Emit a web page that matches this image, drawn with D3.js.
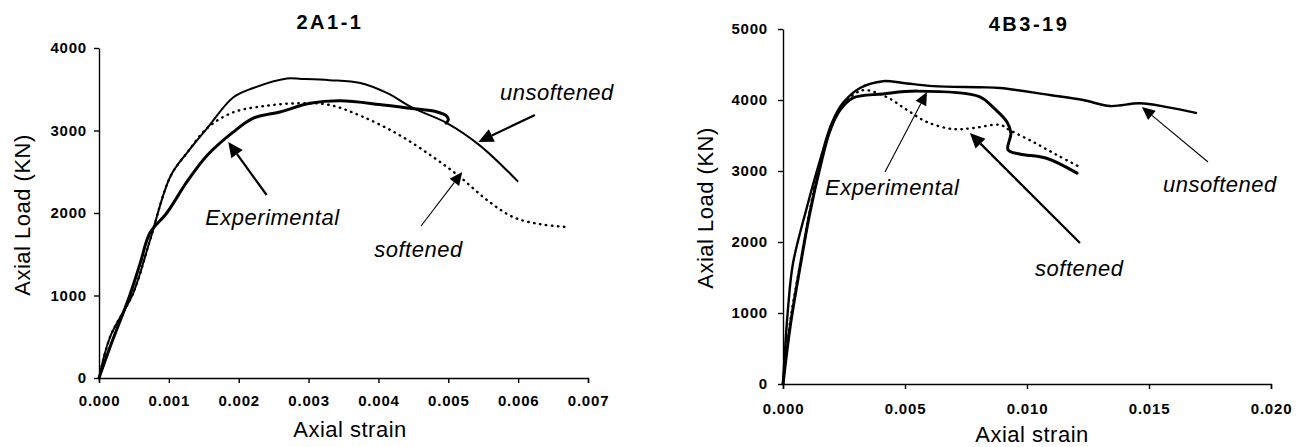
<!DOCTYPE html>
<html>
<head>
<meta charset="utf-8">
<script src="https://cdn.jsdelivr.net/npm/d3@7"></script>
<style>
  html, body { margin: 0; padding: 0; background: #fff; }
  svg { display: block; font-family: "Liberation Sans", Arial, sans-serif; }
  .tick text { font-weight: bold; font-size: 15px; letter-spacing: 0.8px; }
  .axis path, .axis line { stroke: #000; stroke-width: 1.4; }
  .title { font-weight: bold; font-size: 20px; letter-spacing: 2.5px; }
  .axis-title { font-size: 22px; letter-spacing: 0.5px; }
  .note { font-size: 22px; font-style: italic; letter-spacing: 0.5px; }
</style>
</head>
<body>
<svg width="1305" height="447"></svg>
<script>
// ---- 2A1-1 ----
const xTicks1 = [0, 0.001, 0.002, 0.003, 0.004, 0.005, 0.006, 0.007];
const yTicks1 = [0, 1000, 2000, 3000, 4000];
const unsoftStrain1 = [0, 0.00016, 0.00049, 0.00073, 0.00102, 0.00126, 0.00155, 0.00192, 0.00221, 0.00269, 0.0029, 0.0033, 0.00374, 0.00412, 0.0045, 0.00498, 0.00545, 0.006];
const unsoftLoad1 = [0, 500, 1030, 1670, 2440, 2730, 3030, 3400, 3515, 3630, 3625, 3610, 3575, 3455, 3270, 3090, 2820, 2380];
const expStrain1 = [0, 0.00016, 0.00044, 0.00059, 0.00073, 0.00097, 0.00126, 0.00155, 0.00192, 0.00221, 0.00259, 0.00302, 0.00345, 0.00407, 0.00455, 0.00484, 0.00497, 0.005, 0.00497];
const expLoad1 = [0, 380, 1000, 1390, 1760, 2000, 2380, 2700, 2980, 3150, 3225, 3330, 3360, 3310, 3260, 3225, 3180, 3130, 3090];
const softStrain1 = [0, 0.00016, 0.00049, 0.00073, 0.00102, 0.00126, 0.00155, 0.00192, 0.0024, 0.00288, 0.0033, 0.00378, 0.0043, 0.00478, 0.00517, 0.00555, 0.00593, 0.00631, 0.0067];
const softLoad1 = [0, 500, 1030, 1670, 2440, 2730, 3030, 3220, 3300, 3330, 3310, 3165, 2945, 2680, 2435, 2160, 1950, 1865, 1830];

// ---- 4B3-19 ----
const xTicks2 = [0, 0.005, 0.01, 0.015, 0.02];
const yTicks2 = [0, 1000, 2000, 3000, 4000, 5000];
const unsoftStrain2 = [0, 0.0002, 0.00041, 0.00098, 0.00152, 0.002, 0.00246, 0.00316, 0.0041, 0.00492, 0.00615, 0.00807, 0.00889, 0.01094, 0.0123, 0.0134, 0.01463, 0.01574, 0.01697];
const unsoftLoad2 = [0, 1040, 1700, 2490, 3155, 3675, 3960, 4170, 4265, 4240, 4195, 4180, 4170, 4070, 4000, 3915, 3955, 3900, 3815];
const expStrain2 = [0, 0.00029, 0.0007, 0.0011, 0.00152, 0.00193, 0.00234, 0.00287, 0.0041, 0.00549, 0.00807, 0.0086, 0.00918, 0.00934, 0.00922, 0.0097, 0.0108, 0.01205];
const expLoad2 = [0, 800, 1650, 2410, 3055, 3575, 3860, 4030, 4085, 4125, 4045, 3900, 3690, 3530, 3300, 3240, 3180, 2970];
const softStrain2 = [0, 0.0003, 0.0007, 0.0011, 0.0015, 0.002, 0.0025, 0.003, 0.00336, 0.00426, 0.00508, 0.0059, 0.00697, 0.00779, 0.00889, 0.0093, 0.01025, 0.01123, 0.01225];
const softLoad2 = [0, 900, 1680, 2440, 3100, 3630, 3950, 4100, 4140, 4040, 3860, 3690, 3590, 3605, 3650, 3575, 3410, 3225, 3040];

// annotation labels: [text, textStrain, textLoad, tipStrain, tipLoad, tailStrain, tailLoad, thick]
const notes1 = [
  ["Experimental", 0.00152, 1855, 0.00185, 2861, 0.0024, 2218, true],
  ["softened", 0.00394, 1467, 0.0052, 2497, 0.00461, 1842, false],
  ["unsoftened", 0.00574, 3370, 0.00543, 2861, 0.00624, 3188, true],
];
const notes2 = [
  ["Experimental", 0.00172, 2662, 0.0059, 4113, 0.00418, 2986, false],
  ["softened", 0.01033, 1521, 0.00766, 3535, 0.01217, 1986, true],
  ["unsoftened", 0.01557, 2704, 0.01471, 3901, 0.01742, 3127, false],
];

const svg = d3.select("svg");

function zip(xs, ys) {
  return xs.map((x, i) => [x, ys[i]]);
}

function drawPanel(p) {
  const xScale = d3.scaleLinear().domain(p.xDomain).range(p.xRange);
  const yScale = d3.scaleLinear().domain(p.yDomain).range(p.yRange);
  const g = svg.append("g");

  // Title
  g.append("text")
    .attr("class", "title")
    .attr("x", p.titleX)
    .attr("y", p.titleY)
    .attr("text-anchor", "middle")
    .text(p.title);

  // X axis
  g.append("g")
    .attr("class", "axis")
    .attr("transform", "translate(0," + p.yRange[0] + ")")
    .call(d3.axisBottom(xScale).tickValues(p.xTicks).tickFormat(d3.format(".3f"))
      .tickSize(5).tickPadding(p.xPad).tickSizeOuter(5));

  // Y axis
  g.append("g")
    .attr("class", "axis")
    .attr("transform", "translate(" + p.xRange[0] + ",0)")
    .call(d3.axisLeft(yScale).tickValues(p.yTicks).tickFormat(d3.format("d"))
      .tickSize(5).tickPadding(p.yPad).tickSizeOuter(0));

  g.selectAll(".tick text").attr("fill", "#000");

  // Axis titles
  g.append("text")
    .attr("class", "axis-title")
    .attr("x", p.xTitleX)
    .attr("y", p.xTitleY)
    .attr("text-anchor", "middle")
    .text("Axial strain");

  g.append("text")
    .attr("class", "axis-title")
    .attr("text-anchor", "middle")
    .attr("transform", "translate(" + p.yTitleX + "," + p.yTitleY + ")rotate(-90)")
    .text("Axial Load (KN)");

  const line = d3.line()
    .x((d) => xScale(d[0]))
    .y((d) => yScale(d[1]))
    .curve(d3.curveCatmullRom.alpha(0.5));

  // Curves
  g.append("path")
    .datum(p.soft)
    .attr("d", line)
    .attr("fill", "none")
    .attr("stroke", "#000")
    .attr("stroke-width", 2.4)
    .attr("stroke-linecap", "round")
    .attr("stroke-dasharray", "0.5,5.5");

  g.append("path")
    .datum(p.unsoft)
    .attr("d", line)
    .attr("fill", "none")
    .attr("stroke", "#000")
    .attr("stroke-width", p.unsoftWidth)
    .attr("stroke-linejoin", "round");

  g.append("path")
    .datum(p.exp)
    .attr("d", line)
    .attr("fill", "none")
    .attr("stroke", "#000")
    .attr("stroke-width", 3)
    .attr("stroke-linejoin", "round")
    .attr("stroke-linecap", "round");

  // Annotations
  p.notes.forEach((n) => {
    const tx = xScale(n[3]), ty = yScale(n[4]);
    const sx = xScale(n[5]), sy = yScale(n[6]);
    const ang = Math.atan2(ty - sy, tx - sx);
    const len = n[7] ? 15 : 13;
    const half = n[7] ? 7 : 6;
    const bx = tx - len * Math.cos(ang), by = ty - len * Math.sin(ang);
    const px = -Math.sin(ang) * half, py = Math.cos(ang) * half;

    g.append("line")
      .attr("x1", sx).attr("y1", sy)
      .attr("x2", bx).attr("y2", by)
      .attr("stroke", "#000")
      .attr("stroke-width", n[7] ? 2.2 : 1.1);

    g.append("polygon")
      .attr("points", [[tx, ty], [bx + px, by + py], [bx - px, by - py]].map((q) => q.join(",")).join(" "))
      .attr("fill", "#000");

    g.append("text")
      .attr("class", "note")
      .attr("x", xScale(n[1]))
      .attr("y", yScale(n[2]))
      .text(n[0]);
  });
}

drawPanel({
  title: "2A1-1", titleX: 330, titleY: 29,
  xDomain: [0, 0.007], xRange: [99, 588],
  yDomain: [0, 4000], yRange: [378, 48],
  xTicks: xTicks1, yTicks: yTicks1, xPad: 12, yPad: 7,
  xTitleX: 350, xTitleY: 437, yTitleX: 30, yTitleY: 215,
  unsoft: zip(unsoftStrain1, unsoftLoad1),
  exp: zip(expStrain1, expLoad1),
  soft: zip(softStrain1, softLoad1),
  unsoftWidth: 2,
  notes: notes1,
});

drawPanel({
  title: "4B3-19", titleX: 1029, titleY: 31,
  xDomain: [0, 0.02], xRange: [783, 1271],
  yDomain: [0, 5000], yRange: [384, 29],
  xTicks: xTicks2, yTicks: yTicks2, xPad: 14, yPad: 10,
  xTitleX: 1032, xTitleY: 442, yTitleX: 713, yTitleY: 208,
  unsoft: zip(unsoftStrain2, unsoftLoad2),
  exp: zip(expStrain2, expLoad2),
  soft: zip(softStrain2, softLoad2),
  unsoftWidth: 2.4,
  notes: notes2,
});
</script>
</body>
</html>
